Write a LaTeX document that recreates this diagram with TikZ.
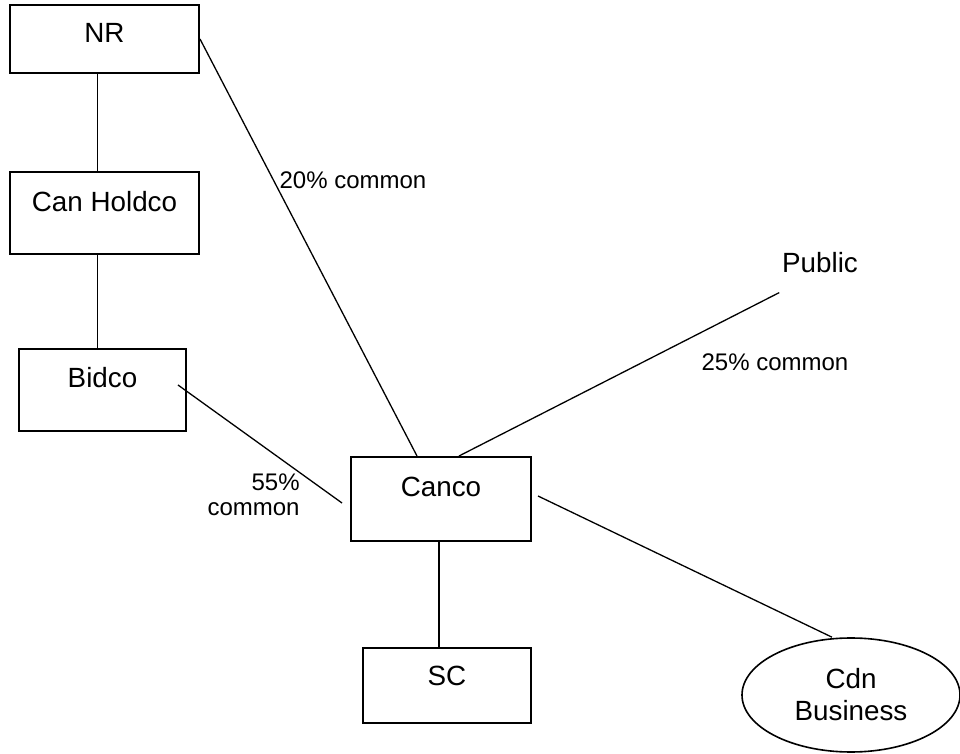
\documentclass[tikz,border=0pt]{standalone}
\usepackage{fontspec}
\setmainfont{Liberation Sans}
\usetikzlibrary{shapes.geometric}

\begin{document}
\begin{tikzpicture}[x=.5pt, y=-.5pt,
  entity/.style={draw, line width=1pt, inner sep=0pt, text height=10pt, text depth=#1, font=\fontsize{13.9}{16}\selectfont},
  pct/.style={inner sep=0pt, font=\fontsize{12}{12.5}\selectfont},
  link/.style={line width=.65pt}]
\useasboundingbox (0,0) rectangle (960,754);

% ownership chain on the left
\node[entity=6pt, minimum width=94.5pt, minimum height=34pt] (nr) at (104.5,39) {NR};
\node[entity=11pt, minimum width=94.5pt, minimum height=41pt] (canholdco) at (104.5,213) {Can Holdco};
\node[entity=12pt, minimum width=83.5pt, minimum height=41pt] (bidco) at (102.5,390) {Bidco};

\node[entity=12pt, minimum width=90pt, minimum height=42pt] (canco) at (441,499) {Canco};
\node[entity=10.5pt, minimum width=84pt, minimum height=37.5pt] (sc) at (447,685.5) {SC};
\node[ellipse, draw, line width=.8pt, inner sep=0pt, minimum width=109pt, minimum height=57pt, align=center, font=\fontsize{13.9}{16}\selectfont] (cdn) at (851,695) {Cdn\\Business};
\node[inner sep=0pt, font=\fontsize{13.9}{16}\selectfont] (public) at (820,263) {Public};

\draw[link, line width=.85pt] ([xshift=-3.5pt]nr.south) -- ([xshift=-3.5pt]canholdco.north);
\draw[link, line width=.85pt] ([xshift=-3.5pt]canholdco.south) -- ([xshift=-2.5pt]bidco.north);
\draw[link] (nr.east) -- ([xshift=-12pt]canco.north);
\draw[link] ([shift={(-4.5pt,2.5pt)}]bidco.east) -- ([shift={(-4pt,-2pt)}]canco.west);
\draw[link] ([shift={(-1.25pt,-9.5pt)}]public.south west) -- ([xshift=9pt]canco.north);
\draw[link] ([shift={(3pt,1.5pt)}]canco.east) -- ([xshift=-9.5pt]cdn.north);
\draw[link, line width=.85pt] ([xshift=-1pt]canco.south) -- ([xshift=-1pt]canco.south |- sc.north);

% percentages
\node[pct] (pctnr) at (353,180) {20\% common};
\node[pct] (pctpub) at (775,362) {25\% common};
\node[pct, align=right, anchor=east] (pctbid) at (300,495) {55\%\\common};

\end{tikzpicture}
\end{document}
